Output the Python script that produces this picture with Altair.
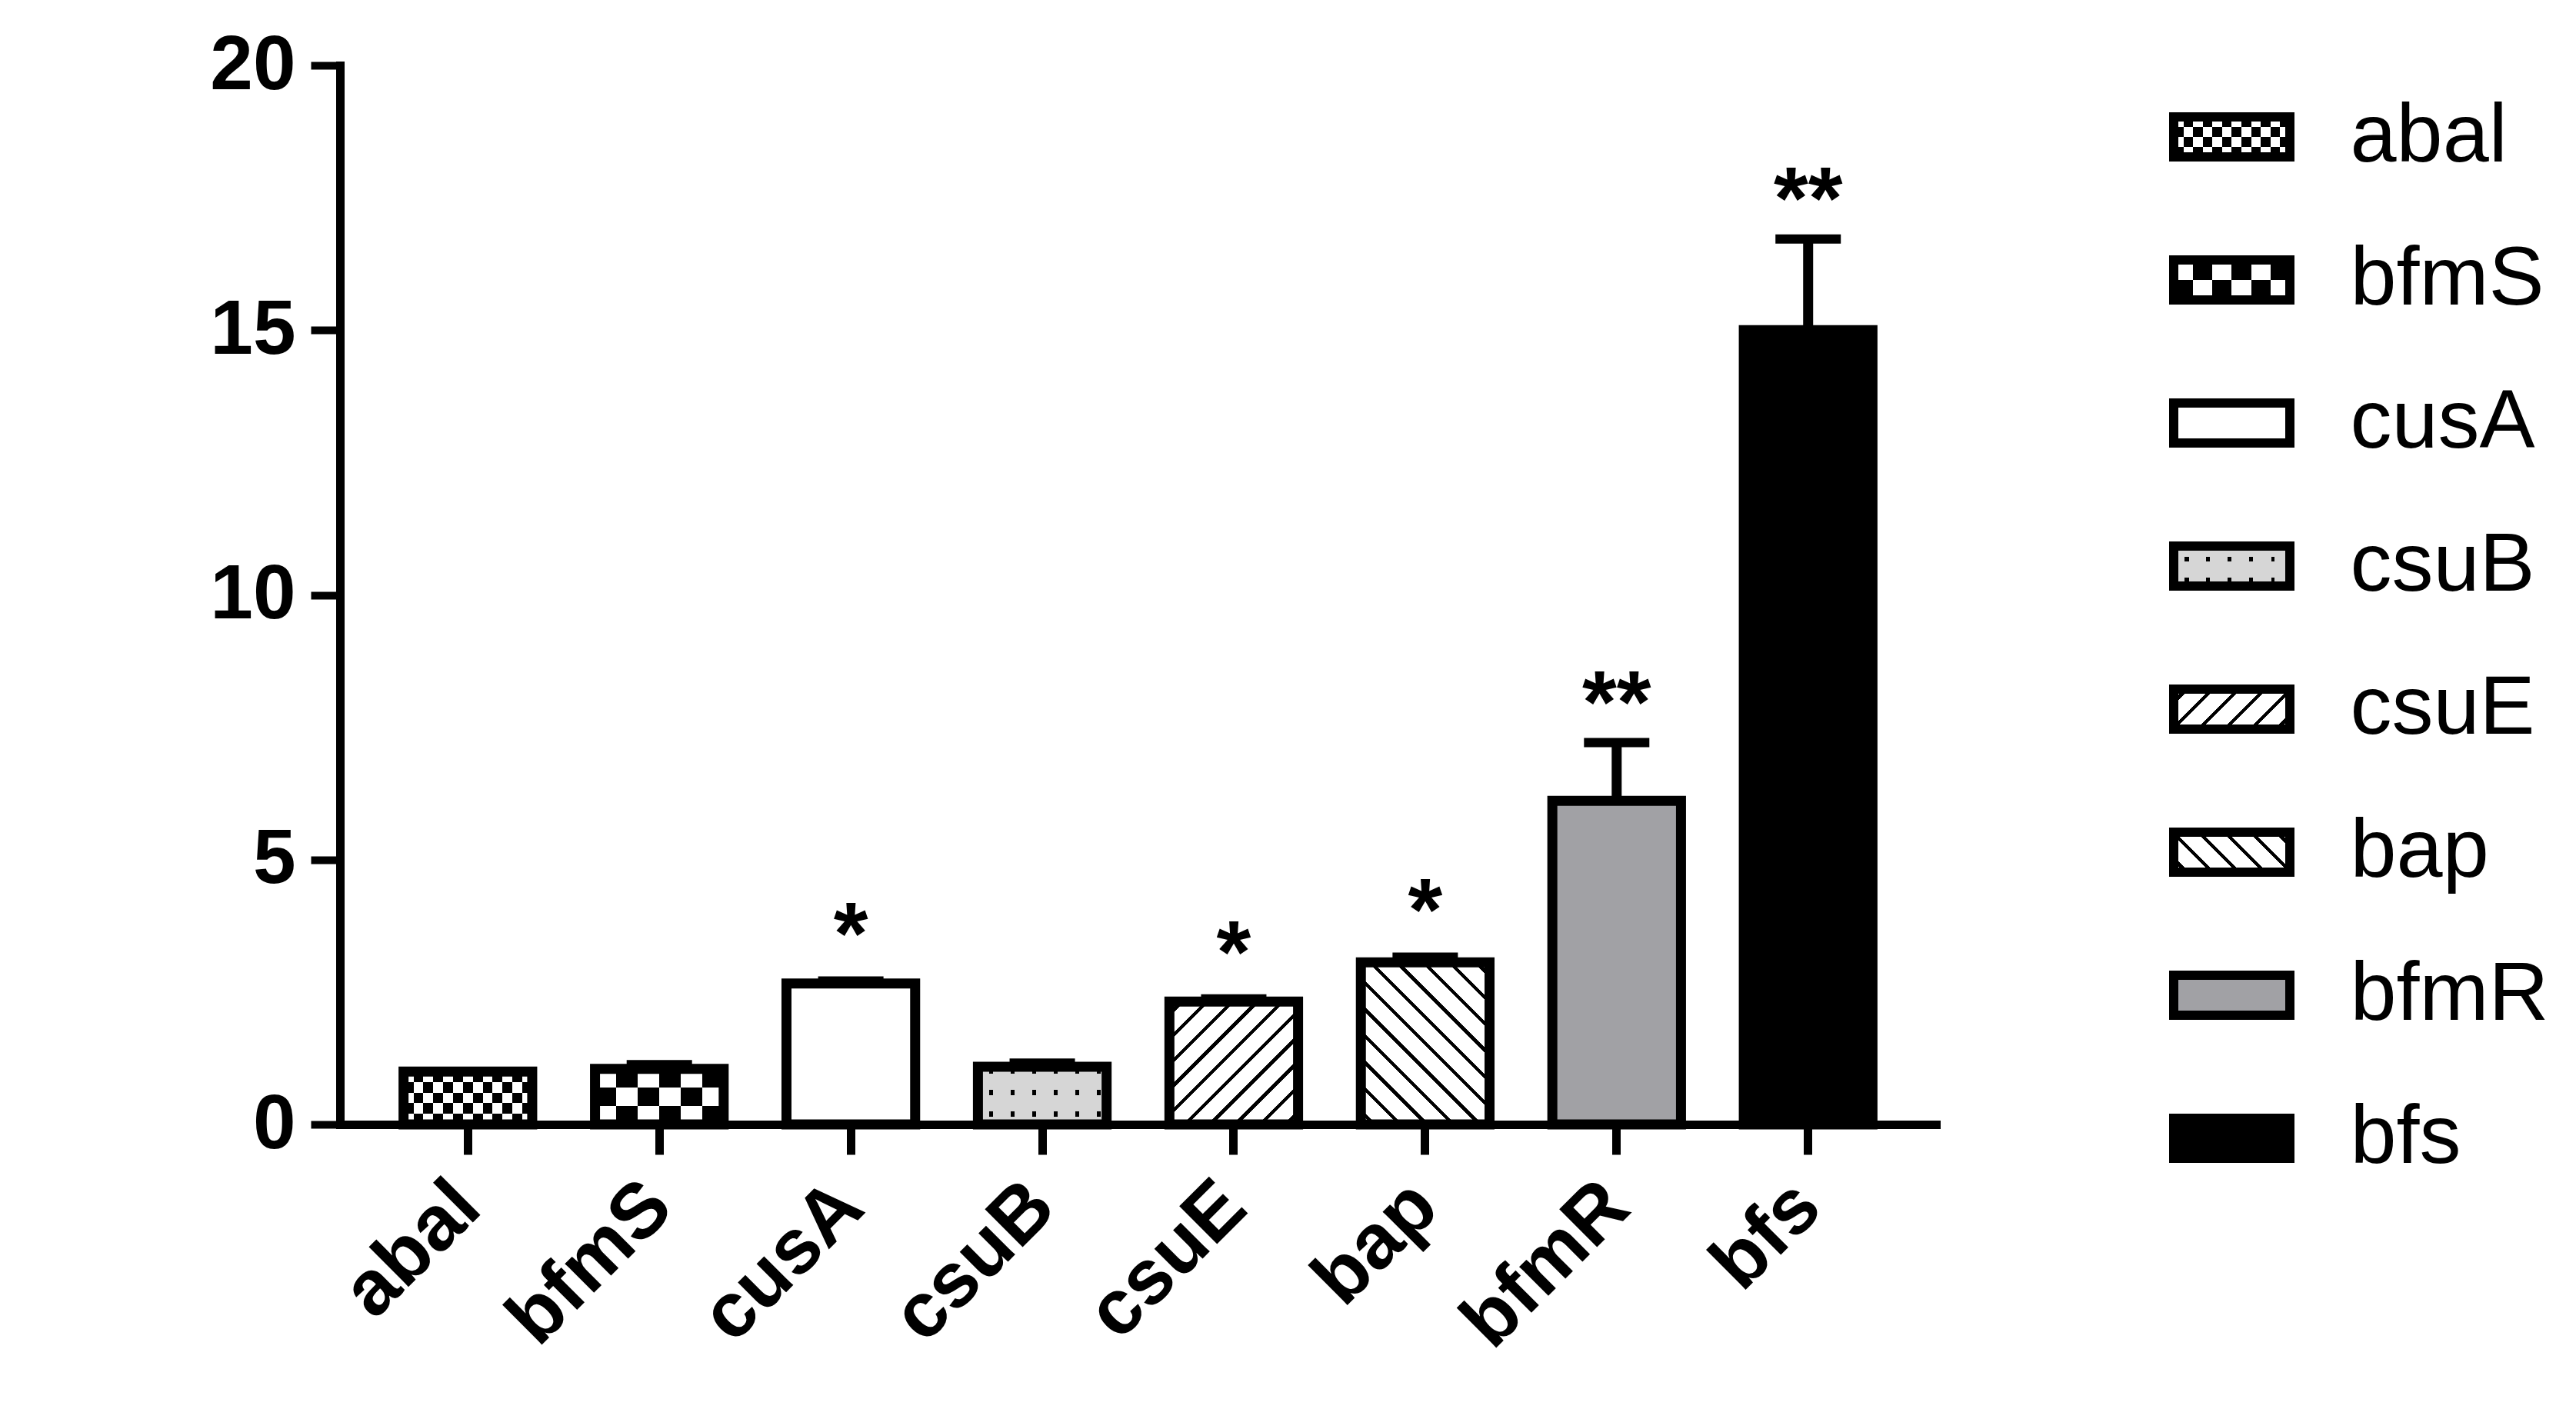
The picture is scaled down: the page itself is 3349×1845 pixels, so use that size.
import math
import altair as alt
import pandas as pd

# ---- data ----
genes = ["abal", "bfmS", "cusA", "csuB", "csuE", "bap", "bfmR", "bfs"]
means = [1.0, 1.05, 2.66, 1.09, 2.32, 3.06, 6.11, 15.0]
sds = [0.0, 0.08, 0.05, 0.07, 0.05, 0.10, 1.10, 1.72]
stars = ["", "", "*", "", "*", "*", "**", "**"]
y_ticks = [0, 5, 10, 15, 20]

FONT = "Liberation Sans"
PW, PH = 2075, 1377          # plot area
P_INNER, P_OUTER = 0.328, 0.332
YMAX = 20
LW, LH = 151, 52              # legend swatch
LSTEP = 186
GRAY_LIGHT = "#d6d6d6"
GRAY_MID = "#a1a1a5"

step = PW / (len(genes) - P_INNER + 2 * P_OUTER)
BW = step * (1 - P_INNER)


def grad(stops, x1, y1, x2, y2):
    return {"gradient": "linear", "x1": x1, "y1": y1, "x2": x2, "y2": y2,
            "stops": [{"offset": max(0.0, min(1.0, o)), "color": c} for o, c in stops]}


def seg_stops(segs, base):
    st = [(0.0, base)]
    for a, b, ink in segs:
        a, b = max(0.0, a), min(1.0, b)
        if b <= 0 or a >= 1:
            continue
        st += [(a, base), (a, ink), (b, ink), (b, base)]
    st.append((1.0, base))
    return st


def bands(n, c0, c1):
    st = []
    for i in range(n):
        c = c0 if i % 2 == 0 else c1
        st += [(i / n, c), ((i + 1) / n, c)]
    return st


def lines(length, period, phase, width, base, ink):
    segs = []
    c = phase
    while c - width / 2 < length:
        segs.append(((c - width / 2) / length, (c + width / 2) / length, ink))
        c += period
    return seg_stops(segs, base)


def diag(W, H, spacing, thick, slash):
    n = max(1, round((W + H) / spacing))
    f = thick * math.sqrt(2) / (W + H)
    p, q = 1 / H, 1 / W
    k = (p + q) / (p * p + q * q)
    segs = [((i + 0.5) / n - f / 2, (i + 0.5) / n + f / 2, "black") for i in range(n)]
    st = seg_stops(segs, "white")
    if slash:
        return grad(st, 0, 0, k * p, k * q)
    return grad(st, 0, 1, k * p, 1 - k * q)


def fills(gene, W, H):
    """list of (fill, blend) layers for a bar of W x H pixels"""
    if gene in ("abal", "bfmS"):
        s = 13 if gene == "abal" else 27
        nx, ny = max(2, round(W / s)), max(2, round(H / s))
        return [(grad(bands(nx, "white", "black"), 0, 0, 1, 0), None),
                (grad(bands(ny, "black", "white"), 0, 0, 0, 1), "difference")]
    if gene == "cusA":
        return [("white", None)]
    if gene == "csuB":
        return [(grad(lines(W, 28, 17, 5, GRAY_LIGHT, "black"), 0, 0, 1, 0), None),
                (grad(lines(H, 28, 6 if H > 60 else 17, 7, GRAY_LIGHT, "black"), 0, 0, 0, 1), "lighten")]
    if gene == "csuE":
        return [(diag(W, H, 33, 4.5, True), None)]
    if gene == "bap":
        return [(diag(W, H, 33, 4.5, False), None)]
    if gene == "bfmR":
        return [(GRAY_MID, None)]
    return [("black", None)]


df = pd.DataFrame({"gene": genes, "mean": means, "sd": sds, "star": stars})
df["top"] = df["mean"] + df["sd"]

x_enc = alt.X("gene:N", sort=genes,
              scale=alt.Scale(paddingInner=P_INNER, paddingOuter=P_OUTER),
              axis=alt.Axis(title=None, labelAngle=-45, labelAlign="right", labelBaseline="middle",
                            labelFont=FONT, labelFontSize=101, labelFontWeight="bold", labelColor="black",
                            labelPadding=52, labelLimit=0, tickSize=39, tickWidth=11, tickColor="black",
                            domainWidth=11, domainColor="black", domainCap="square", labelOverlap=False))
y_scale = alt.Scale(domain=[0, YMAX], nice=False)
y_axis = alt.Axis(title=None, values=y_ticks, grid=False, labelFont=FONT, labelFontSize=100,
                  labelFontWeight="bold", labelColor="black", labelPadding=20, labelLimit=0, tickSize=38,
                  tickWidth=10, tickColor="black", domainWidth=11, domainColor="black",
                  domainCap="square", labelFlush=False, labelOverlap=False)

base = alt.Chart(df)
layers = []
for g, m in zip(genes, means):
    H = m * PH / YMAX
    for fill, blend in fills(g, BW, H):
        kw = {"fill": fill, "strokeWidth": 0}
        if blend:
            kw["blend"] = blend
        layers.append(base.transform_filter(alt.datum.gene == g).mark_bar(**kw).encode(
            x=x_enc, y=alt.Y("mean:Q", scale=y_scale, axis=y_axis)))

outline = base.mark_bar(fill="white", fillOpacity=0, stroke="black", strokeWidth=13).encode(
    x=x_enc, y=alt.Y("mean:Q", scale=y_scale, axis=y_axis))
err = base.transform_filter(alt.datum.sd > 0).mark_rule(color="black", strokeWidth=13, opacity=1).encode(
    x=x_enc, y=alt.Y("mean:Q", scale=y_scale, axis=y_axis), y2="top:Q")
cap = base.transform_filter(alt.datum.sd > 0).mark_tick(color="black", size=85, thickness=12, opacity=1).encode(
    x=x_enc, y=alt.Y("top:Q", scale=y_scale, axis=y_axis))
star1 = base.transform_filter(alt.datum.star == "*").mark_text(
    font=FONT, fontSize=115, fontWeight="bold", color="black", baseline="alphabetic", dy=-22).encode(
    x=x_enc, y=alt.Y("top:Q", scale=y_scale, axis=y_axis), text="star:N")
star2 = base.transform_filter(alt.datum.star == "**").mark_text(
    font=FONT, fontSize=115, fontWeight="bold", color="black", baseline="alphabetic", dy=-14).encode(
    x=x_enc, y=alt.Y("top:Q", scale=y_scale, axis=y_axis), text="star:N")

main = alt.layer(*layers, outline, err, cap, star1, star2).properties(width=PW, height=PH)

# ---- legend panel ----
leg_df = pd.DataFrame({"gene": genes})
ly = alt.Y("gene:N", sort=genes, scale=alt.Scale(paddingInner=0, paddingOuter=0),
           axis=alt.Axis(orient="right", title=None, domain=False, ticks=False, tickSize=0, labelLimit=0,
                         labelFont=FONT, labelFontSize=108, labelColor="black", labelPadding=78))
lbase = alt.Chart(leg_df)
leg_layers = []
for g in genes:
    for fill, blend in fills(g, LW, LH):
        kw = {"fill": fill, "strokeWidth": 0, "height": LH, "orient": "horizontal"}
        if blend:
            kw["blend"] = blend
        leg_layers.append(lbase.transform_filter(alt.datum.gene == g).mark_bar(**kw).encode(
            y=ly, x=alt.value(0), x2=alt.value(LW)))
leg_outline = lbase.mark_bar(fill="white", fillOpacity=0, stroke="black", strokeWidth=12,
                             height=LH, orient="horizontal").encode(y=ly, x=alt.value(0), x2=alt.value(LW))
legend = alt.layer(*leg_layers, leg_outline).properties(width=LW, height=LSTEP * len(genes))

chart = alt.hconcat(main, legend, spacing=309, bounds="flush").configure_view(stroke=None).properties(
    padding={"left": 264, "top": 27, "right": 5, "bottom": 5}, background="white")

chart.save("out.html", embed_options={"renderer": "svg", "actions": False})
